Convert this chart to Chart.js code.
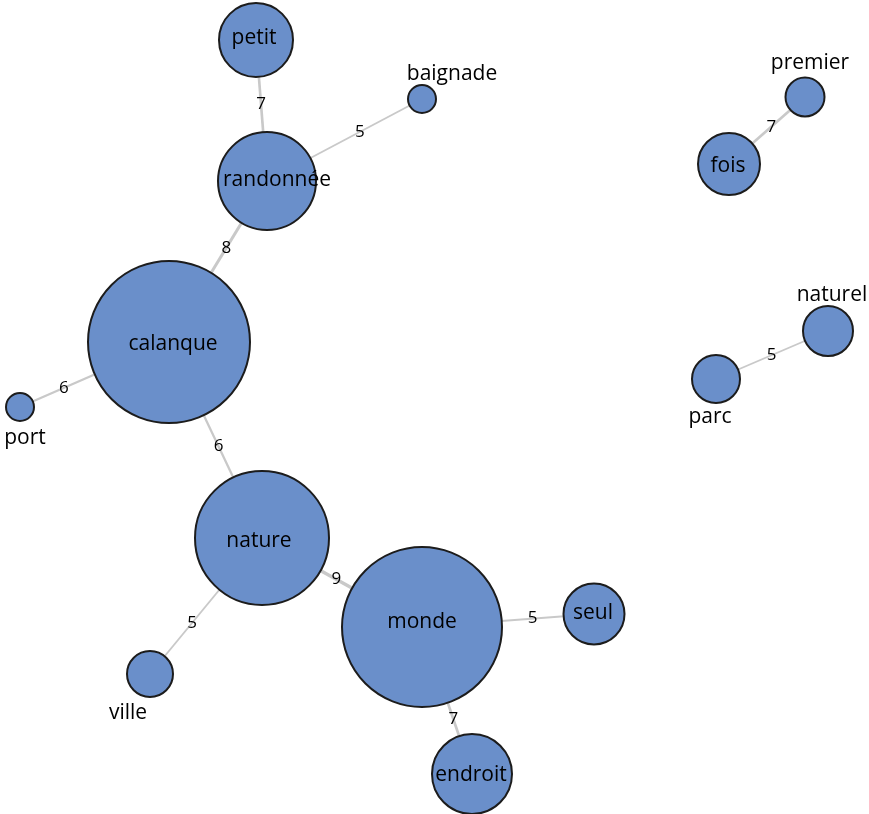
<!DOCTYPE html>
<html><head><meta charset="utf-8">
<script src="https://cdn.jsdelivr.net/npm/chart.js@4.4.1/dist/chart.umd.min.js"></script>
<style>html,body{margin:0;padding:0;background:#fff}#wrap{width:869px;height:814px;position:relative}</style>
</head><body><div id="wrap"><canvas id="c" width="869" height="814"></canvas></div>
<script>
// Nodes (layout coordinates and frequency-based bubble size)
const nodeNames = ['petit','baignade','randonnée','calanque','port','nature','monde','seul','ville','endroit','premier','fois','naturel','parc'];
const nodeX = [256, 422, 267, 169, 20, 262, 422, 594, 150, 472, 805, 729, 828, 716];
const nodeY = [40, 99, 181, 342, 407, 538, 627, 614, 674, 774, 97, 164, 331, 379];
const nodeSize = [37, 14, 49, 81, 14, 67, 80, 30.5, 23, 40, 19.5, 31, 25, 24];

// Edges (co-occurrence weights)
const edgeFrom = ['petit','randonnée','randonnée','calanque','calanque','nature','nature','monde','monde','fois','parc'];
const edgeTo = ['randonnée','baignade','calanque','port','nature','monde','ville','seul','endroit','premier','naturel'];
const edgeWeight = [7, 5, 8, 6, 6, 9, 5, 5, 7, 7, 5];

// Label placement relative to node centre (pixels)
const labelDX = [-2, 30, 10, 4, 5, -3, 0, -1, -22, -1, 5, -1, 4, -6];
const labelDY = [-2, -25, -1, 2, 31, 3, -5, -1, 39, 1, -34, 2, -36, 38];

const FILL = '#6a8fca', STROKE = '#1c1c1c', EDGE = '#c9c9c9', TEXT = '#000000';
const idx = n => nodeNames.indexOf(n);

const edgeDatasets = edgeFrom.map((f, i) => {
  const a = idx(f), b = idx(edgeTo[i]);
  return {
    type: 'line',
    data: [{x: nodeX[a], y: nodeY[a]}, {x: nodeX[b], y: nodeY[b]}],
    borderColor: EDGE,
    borderWidth: edgeWeight[i] * 0.38,
    pointRadius: 0,
    fill: false,
    order: 1,
    clip: false
  };
});

const nodeDataset = {
  type: 'bubble',
  data: nodeNames.map((n, i) => ({x: nodeX[i], y: nodeY[i], r: nodeSize[i]})),
  backgroundColor: FILL,
  borderColor: STROKE,
  borderWidth: 2,
  hoverBorderWidth: 2,
  hoverRadius: 0,
  order: 0,
  clip: false
};

const labelPlugin = {
  id: 'netLabels',
  afterDatasetsDraw(chart) {
    const ctx = chart.ctx, xs = chart.scales.x, ys = chart.scales.y;
    ctx.save();
    ctx.fillStyle = TEXT;
    ctx.textAlign = 'center';
    ctx.textBaseline = 'middle';
    // edge weight labels at the middle of the visible segment
    ctx.font = '17px "Open Sans"';
    edgeFrom.forEach((f, i) => {
      const a = idx(f), b = idx(edgeTo[i]);
      const x1 = xs.getPixelForValue(nodeX[a]), y1 = ys.getPixelForValue(nodeY[a]);
      const x2 = xs.getPixelForValue(nodeX[b]), y2 = ys.getPixelForValue(nodeY[b]);
      const dx = x2 - x1, dy = y2 - y1, L = Math.hypot(dx, dy);
      const ux = dx / L, uy = dy / L;
      const sx = x1 + ux * nodeSize[a], sy = y1 + uy * nodeSize[a];
      const ex = x2 - ux * nodeSize[b], ey = y2 - uy * nodeSize[b];
      ctx.fillText(String(edgeWeight[i]), (sx + ex) / 2, (sy + ey) / 2);
    });
    // node labels
    ctx.font = '500 21px "Open Sans"';
    nodeNames.forEach((n, i) => {
      const px = xs.getPixelForValue(nodeX[i]) + labelDX[i];
      const py = ys.getPixelForValue(nodeY[i]) + labelDY[i];
      ctx.fillText(n, px, py);
    });
    ctx.restore();
  }
};

new Chart(document.getElementById('c'), {
  type: 'bubble',
  data: {datasets: [...edgeDatasets, nodeDataset]},
  options: {
    responsive: false,
    animation: false,
    events: [],
    layout: {padding: 0, autoPadding: false},
    scales: {
      x: {type: 'linear', min: 0, max: 869, display: false},
      y: {type: 'linear', min: 0, max: 814, reverse: true, display: false}
    },
    plugins: {legend: {display: false}, tooltip: {enabled: false}}
  },
  plugins: [labelPlugin]
});
</script>
</body></html>
